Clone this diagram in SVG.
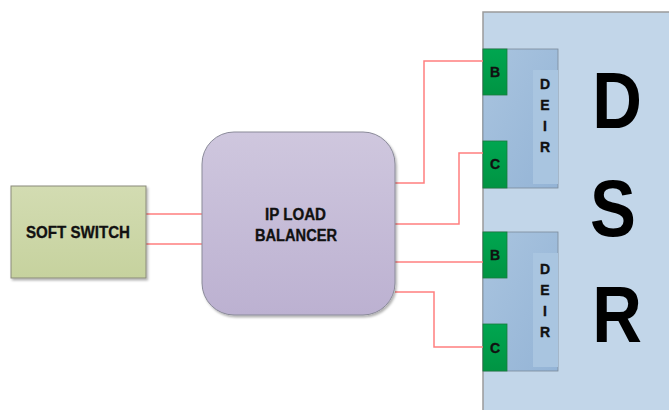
<svg xmlns="http://www.w3.org/2000/svg" width="669" height="410" viewBox="0 0 669 410">
<defs>
<linearGradient id="gSS" x1="0" y1="0" x2="0" y2="1"><stop offset="0" stop-color="#d3dcb2"/><stop offset="1" stop-color="#c6d29e"/></linearGradient>
<linearGradient id="gLB" x1="0" y1="0" x2="0" y2="1"><stop offset="0" stop-color="#cfc7de"/><stop offset="1" stop-color="#bcb1d1"/></linearGradient>
<linearGradient id="gDE" x1="0" y1="0" x2="1" y2="1"><stop offset="0" stop-color="#a9c4df"/><stop offset="1" stop-color="#94b4d6"/></linearGradient>
<linearGradient id="gG" x1="0" y1="0" x2="0" y2="1"><stop offset="0" stop-color="#00a650"/><stop offset="1" stop-color="#009443"/></linearGradient>
<filter id="sh" x="-10%" y="-10%" width="130%" height="130%"><feDropShadow dx="1.5" dy="2" stdDeviation="1.2" flood-color="#000" flood-opacity="0.3"/></filter>
</defs>
<style>
.t{font-family:"Liberation Sans",Arial,sans-serif;font-weight:bold;fill:#111;stroke:#111;stroke-width:0.35;}
.big{font-family:"Liberation Sans",Arial,sans-serif;font-weight:bold;font-size:80px;fill:#000;text-anchor:middle;}
.w{fill:none;stroke:#ff7f7f;stroke-width:1.5;}
.g{fill:url(#gG);stroke:#1b7a3c;stroke-width:0.8;}
</style>
<g id="dsr">
<rect x="483" y="12" width="200" height="410" fill="#c2d6e9" stroke="#9a9a9a" stroke-width="1.5"/>
<text class="big" transform="translate(617,128) scale(0.86,1)">D</text>
<text class="big" transform="translate(613,236) scale(0.86,1)">S</text>
<text class="big" transform="translate(617,342) scale(0.86,1)">R</text>
</g>
<g id="deir1">
<rect x="483" y="49" width="75" height="139" fill="url(#gDE)" stroke="#7c8a99" stroke-width="0.8"/>
<rect x="533" y="70" width="25" height="114" fill="#a9c5e0"/>
<g class="t" font-size="14" text-anchor="middle"><text x="545" y="89">D</text><text x="545" y="110">E</text><text x="545" y="131">I</text><text x="545" y="152">R</text></g>
</g>
<g id="b1"><rect class="g" x="483" y="49" width="24" height="46"/><text class="t" font-size="14" x="495" y="77" text-anchor="middle">B</text></g>
<g id="c1"><rect class="g" x="483" y="141" width="24" height="47"/><text class="t" font-size="14" x="495" y="169" text-anchor="middle">C</text></g>
<g id="deir2">
<rect x="483" y="232" width="75" height="139" fill="url(#gDE)" stroke="#7c8a99" stroke-width="0.8"/>
<rect x="533" y="253" width="25" height="114" fill="#a9c5e0"/>
<g class="t" font-size="14" text-anchor="middle"><text x="545" y="274">D</text><text x="545" y="295">E</text><text x="545" y="316">I</text><text x="545" y="337">R</text></g>
</g>
<g id="b2"><rect class="g" x="483" y="232" width="24" height="46"/><text class="t" font-size="14" x="495" y="260" text-anchor="middle">B</text></g>
<g id="c2"><rect class="g" x="483" y="324" width="24" height="47"/><text class="t" font-size="14" x="495" y="353" text-anchor="middle">C</text></g>
<g id="connectors">
<path class="w" d="M146 214H202M146 244H202"/>
<path class="w" d="M395 183H424V61H483"/>
<path class="w" d="M395 224H459V153H483"/>
<path class="w" d="M395 262H483"/>
<path class="w" d="M395 292H434V347H483"/>
</g>
<g id="softswitch">
<rect x="11" y="186" width="135" height="92" fill="url(#gSS)" stroke="#8a8a7a" stroke-width="1" filter="url(#sh)"/>
<text class="t" font-size="17" x="26" y="238" textLength="104" lengthAdjust="spacingAndGlyphs">SOFT SWITCH</text>
</g>
<g id="loadbalancer">
<rect x="202" y="132" width="193" height="183" rx="32" fill="url(#gLB)" stroke="#8a8a99" stroke-width="1" filter="url(#sh)"/>
<text class="t" font-size="16" x="265" y="220" textLength="61" lengthAdjust="spacingAndGlyphs">IP LOAD</text>
<text class="t" font-size="16" x="255" y="241" textLength="82" lengthAdjust="spacingAndGlyphs">BALANCER</text>
</g>
</svg>
